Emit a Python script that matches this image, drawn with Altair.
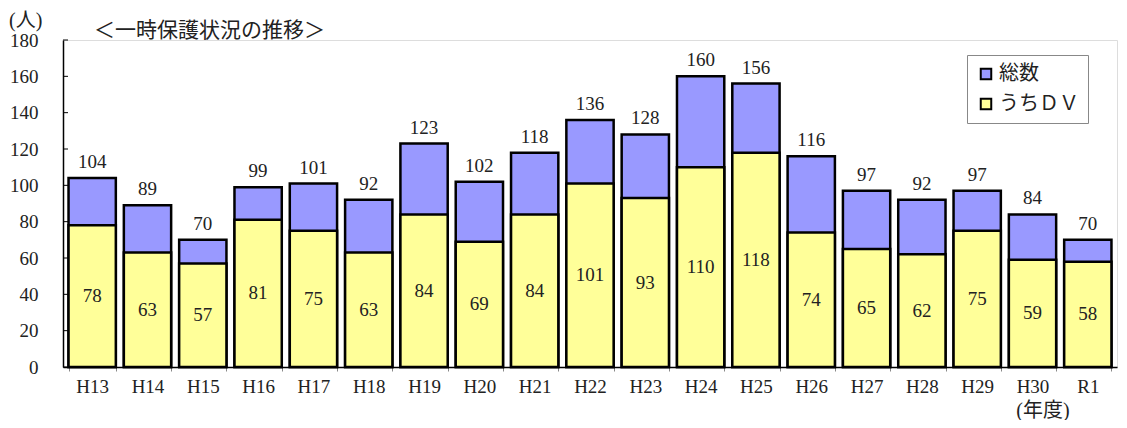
import altair as alt
import pandas as pd

years = ["H13","H14","H15","H16","H17","H18","H19","H20","H21","H22","H23","H24","H25","H26","H27","H28","H29","H30","R1"]
totals = [104,89,70,99,101,92,123,102,118,136,128,160,156,116,97,92,97,84,70]
dv = [78,63,57,81,75,63,84,69,84,101,93,110,118,74,65,62,75,59,58]
series = ["総数","うちＤＶ"]
colors = ["#9999FF","#FFFF99"]
yticks = [0,20,40,60,80,100,120,140,160,180]

FONT = "Liberation Serif, Noto Sans CJK JP"

rows = []
for y, t in zip(years, totals):
    rows.append({"year": y, "series": series[0], "value": t, "mid": t / 2, "order": 0})
for y, d in zip(years, dv):
    rows.append({"year": y, "series": series[1], "value": d, "mid": d / 2, "order": 1})
df = pd.DataFrame(rows)
df_tot = df[df.series == series[0]]
df_dv = df[df.series == series[1]]

xscale = alt.Scale(domain=years, paddingInner=0.145, paddingOuter=0.1)
yscale = alt.Scale(domain=[0, 180], nice=False)

XAXIS = dict(title=None, labelAngle=0, tickBand="extent", tickSize=4, tickColor="#888",
             labelPadding=6, labelFont=FONT, labelFontSize=19, labelColor="#222",
             labelOverlap=False, domainColor="black", domainWidth=1.5, grid=False)
YAXIS = dict(title=None, values=yticks, ticks=False, grid=False, labelPadding=25,
             labelFont=FONT, labelFontSize=19, labelColor="#222", labelOverlap=False,
             domainColor="black", domainWidth=1.5)


def X():
    return alt.X("year:N", scale=xscale, sort=years, axis=alt.Axis(**XAXIS))


def Y(field, **kw):
    return alt.Y(field, scale=yscale, axis=alt.Axis(**YAXIS), **kw)


bars = alt.Chart(df).mark_bar(stroke="black", strokeWidth=2.5).encode(
    x=X(),
    y=Y("value:Q", stack=None),
    color=alt.Color("series:N", scale=alt.Scale(domain=series, range=colors),
                    legend=alt.Legend(title=None, orient="none", legendX=904, legendY=15,
                                      symbolType="square", symbolSize=110,
                                      symbolStrokeColor="black", symbolStrokeWidth=2,
                                      labelFont=FONT, labelFontSize=20, labelColor="#222",
                                      rowPadding=10, padding=9, strokeColor="#888",
                                      fillColor="white", labelOffset=3)),
    order=alt.Order("order:Q"),
)

tot_labels = alt.Chart(df_tot).mark_text(dy=-16, font=FONT, fontSize=19, color="#222").encode(
    x=X(), y=Y("value:Q"), text="value:Q")

dv_labels = alt.Chart(df_dv).mark_text(font=FONT, fontSize=19, color="#222").encode(
    x=X(), y=Y("mid:Q"), text="value:Q")

tick_df = pd.DataFrame({"t": yticks})
yt = alt.Chart(tick_df).mark_rule(color="black", strokeWidth=1).encode(
    y=Y("t:Q"), x=alt.value(0), x2=alt.value(5))

txt = pd.DataFrame({"dummy": [0]})
title = alt.Chart(txt).mark_text(text="＜一時保護状況の推移＞", font=FONT, fontSize=21,
                                  align="left", color="#222").encode(
    x=alt.value(31), y=alt.value(-9))
unit = alt.Chart(txt).mark_text(text="(人)", font=FONT, fontSize=20, align="left",
                                 color="#222").encode(x=alt.value(-54), y=alt.value(-19))
nendo = alt.Chart(txt).mark_text(text="(年度)", font=FONT, fontSize=20, align="center",
                                  color="#222").encode(x=alt.value(980), y=alt.value(371))

chart = alt.layer(bars, yt, tot_labels, dv_labels, title, unit, nendo).properties(
    width=1054, height=327,
    autosize=alt.AutoSizeParams(type="none"),
    padding={"left": 55, "top": 32, "right": 2, "bottom": 53},
).configure_view(stroke=None).configure(background="white")

chart.save("out.html", embed_options={"renderer": "svg", "actions": False})
